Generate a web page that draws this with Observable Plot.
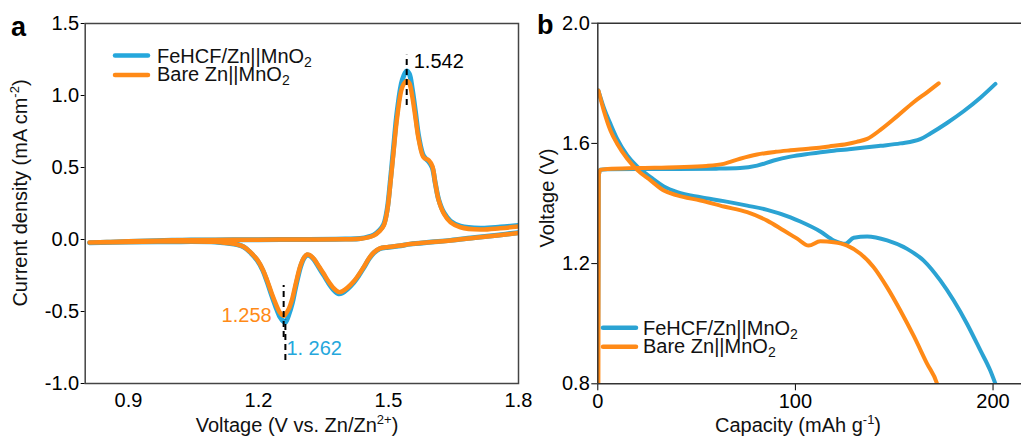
<!DOCTYPE html>
<html><head><meta charset="utf-8">
<script src="https://cdn.jsdelivr.net/npm/d3@7"></script>
<script src="https://cdn.jsdelivr.net/npm/@observablehq/plot@0.6"></script>
<style>
html,body{margin:0;padding:0;background:#fff;overflow:hidden}
#wrap{position:relative;width:1021px;height:436px;font-family:"Liberation Sans",Arial,sans-serif}
#wrap svg{position:absolute;top:0;max-width:none}
</style></head><body><div id="wrap"></div>
<script>
// ---------- Panel a: CV curves (loop: cathodic scan 1.8 -> 0.81, then anodic 0.81 -> 1.8)
const cvVoltage = [1.800,1.75,1.70,1.643,1.60,1.55,1.528,1.50,1.48,1.466,1.455,1.443,1.43,1.42,1.405,1.393,1.385,1.374,1.36,1.351,1.34,1.328,1.318,1.312,1.305,1.298,1.293,1.285,1.278,1.27,1.262,1.258,1.25,1.239,1.23,1.22,1.21,1.197,1.18,1.166,1.15,1.13,1.10,1.0,0.9,0.81,
  0.85,0.9,1.0,1.1,1.2,1.3,1.4,1.435,1.466,1.48,1.489,1.497,1.505,1.512,1.52,1.532,1.542,1.548,1.555,1.562,1.57,1.581,1.593,1.601,1.608,1.616,1.628,1.643,1.666,1.712,1.758,1.80];
const cvBare = [0.045,0.028,0.012,-0.007,-0.018,-0.032,-0.042,-0.052,-0.062,-0.09,-0.13,-0.19,-0.25,-0.29,-0.335,-0.36,-0.365,-0.34,-0.285,-0.24,-0.19,-0.135,-0.108,-0.104,-0.125,-0.17,-0.22,-0.32,-0.41,-0.48,-0.52,-0.53,-0.51,-0.44,-0.37,-0.285,-0.21,-0.14,-0.085,-0.05,-0.034,-0.025,-0.016,-0.014,-0.017,-0.021,
  -0.018,-0.013,-0.006,-0.003,-0.001,0.0,0.002,0.005,0.028,0.06,0.097,0.2,0.41,0.62,0.85,1.06,1.10,1.085,0.99,0.85,0.69,0.57,0.55,0.51,0.39,0.27,0.178,0.12,0.085,0.069,0.078,0.09];
const cvFeHCF = [0.048,0.030,0.014,-0.006,-0.018,-0.032,-0.043,-0.054,-0.064,-0.093,-0.135,-0.195,-0.257,-0.298,-0.345,-0.372,-0.377,-0.352,-0.295,-0.25,-0.198,-0.14,-0.112,-0.108,-0.13,-0.18,-0.235,-0.34,-0.44,-0.52,-0.575,-0.57,-0.54,-0.46,-0.385,-0.295,-0.215,-0.145,-0.087,-0.052,-0.035,-0.026,-0.017,-0.015,-0.018,-0.022,
  -0.019,-0.014,-0.006,-0.003,-0.001,0.0,0.003,0.007,0.032,0.066,0.105,0.21,0.43,0.65,0.89,1.11,1.17,1.15,1.04,0.89,0.71,0.58,0.54,0.50,0.39,0.275,0.185,0.128,0.093,0.078,0.086,0.098];
const xTicksA = [0.9,1.2,1.5,1.8];
const xTickLabelsA = ["0.9","1.2","1.5","1.8"];
const yTicksA = [-1.0,-0.5,0.0,0.5,1.0,1.5];
const yTickLabelsA = ["-1.0","-0.5","0.0","0.5","1.0","1.5"];
const peakLabels = ["1.542","1.258","1. 262"];
const peakVoltages = [1.542,1.258,1.262];
const peakDashLow = [0.93,-0.68,-0.84];
const peakDashHigh = [1.28,-0.32,-0.56];

// ---------- Panel b: charge/discharge curves
const chargeFeHCFCap  = [0.2,0.5,1.2,5,20,40,60,72,80.6,89,97.5,107.6,117,126.2,135,143,153.1,163.2,168.3,176.7,185.1,193.6,201.2];
const chargeFeHCFVolt = [0.98,1.49,1.512,1.514,1.515,1.515,1.516,1.518,1.526,1.543,1.556,1.566,1.574,1.58,1.586,1.592,1.6,1.614,1.633,1.668,1.707,1.752,1.798];
const chargeBareCap  = [0.3,0.5,1.2,5,20,40,55,63.7,72,80.6,90,97.5,107.6,117,126.2,131,136.3,143,151.4,159.8,166.6,172.5];
const chargeBareVolt = [0.78,1.49,1.512,1.515,1.518,1.521,1.525,1.532,1.549,1.563,1.572,1.577,1.583,1.59,1.598,1.605,1.615,1.645,1.69,1.737,1.77,1.80];
const dischargeFeHCFCap  = [0.3,3,6.4,9.8,14.9,19.9,26.7,33.4,40.2,52,63.7,75.6,85.7,97.5,102.5,112.6,119.4,125.3,129.5,136.3,146.4,156.5,164.9,173.3,180.1,186.8,193.6,198.6,201.2];
const dischargeFeHCFVolt = [1.776,1.72,1.665,1.615,1.56,1.523,1.488,1.457,1.438,1.421,1.408,1.393,1.379,1.354,1.34,1.307,1.277,1.266,1.286,1.29,1.277,1.249,1.21,1.144,1.077,1.0,0.911,0.844,0.8];
const dischargeBareCap  = [0.3,3,6.4,9.8,14.9,19.9,26.7,33.4,40.2,52,63.7,75.6,85.7,94.1,100.9,106.7,112.6,119.4,126.2,132.9,139.6,146.4,153.1,159.8,166.6,171.7,173];
const dischargeBareVolt = [1.776,1.71,1.643,1.599,1.549,1.512,1.477,1.443,1.427,1.41,1.39,1.371,1.343,1.31,1.283,1.26,1.274,1.271,1.26,1.233,1.188,1.121,1.044,0.96,0.867,0.8,0.77];
const xTicksB = [0,100,200];
const xTickLabelsB = ["0","100","200"];
const yTicksB = [0.8,1.2,1.6,2.0];
const yTickLabelsB = ["0.8","1.2","1.6","2.0"];

const seriesNames = ["FeHCF/Zn||MnO", "Bare Zn||MnO"];
const BLUE = "#25a7dc", ORANGE = "#ff8a17", BLUE_B = "#2ba3d3";
const FONT = "'Liberation Sans', Arial, sans-serif";

const wrap = document.getElementById("wrap");
const baseStyle = {background:"transparent", overflow:"visible", fontFamily: FONT, fontSize:"20px", color:"#000"};

const rowsA = vals => cvVoltage.map((v,i)=>({v, c: vals[i]}));
const peaks = peakVoltages.map((v,i)=>({v, lo: peakDashLow[i], hi: peakDashHigh[i], label: peakLabels[i]}));

const plotA = Plot.plot({
  width: 540, height: 436,
  marginLeft: 84.7, marginRight: 22, marginTop: 23, marginBottom: 53,
  style: baseStyle,
  x: {domain:[0.8,1.8]},
  y: {domain:[-1,1.5]},
  marks: [
    Plot.axisY({ticks: yTicksA, tickFormat:(d,i)=>yTickLabelsA[i], tickSize:4, tickPadding:2, label:null}),
    Plot.axisX({ticks: xTicksA, tickFormat:(d,i)=>xTickLabelsA[i], tickSize:0, tickPadding:9, label:null}),
    Plot.line(rowsA(cvFeHCF), {x:"v", y:"c", stroke: BLUE, strokeWidth:5, curve:"catmull-rom", clip:true}),
    Plot.line(rowsA(cvBare), {x:"v", y:"c", stroke: ORANGE, strokeWidth:4.5, curve:"catmull-rom", clip:true}),
    Plot.ruleX(peaks, {x:"v", y1:"lo", y2:"hi", stroke:"#000", strokeWidth:2, strokeDasharray:"6,4"}),
    Plot.text([peaks[0]], {x:"v", y:1.232, text:"label", textAnchor:"start", dx:7, fill:"#000", fontSize:20}),
    Plot.text([peaks[1]], {x:"v", y:-0.53, text:"label", textAnchor:"end", dx:-12, fill:ORANGE, fontSize:20}),
    Plot.text([peaks[2]], {x:"v", y:-0.76, text:"label", textAnchor:"start", dx:1, fill:BLUE, fontSize:20}),
    Plot.frame({stroke:"#444", strokeWidth:1.5})
  ]
});
plotA.style.left = "0px";

const rowsB = (caps, volts) => caps.map((c,i)=>({c, v: volts[i]}));
const plotB = Plot.plot({
  width: 501, height: 436,
  marginLeft: 77.3, marginRight: 0, marginTop: 22.7, marginBottom: 52.7,
  style: baseStyle,
  x: {domain:[0,214.4]},
  y: {domain:[0.8,2.0]},
  marks: [
    Plot.axisY({ticks: yTicksB, tickFormat:(d,i)=>yTickLabelsB[i], tickSize:6, tickPadding:2, label:null}),
    Plot.axisX({ticks: xTicksB, tickFormat:(d,i)=>xTickLabelsB[i], tickSize:7, tickPadding:3, label:null}),
    Plot.line(rowsB(chargeFeHCFCap, chargeFeHCFVolt), {x:"c", y:"v", stroke: BLUE_B, strokeWidth:4, curve:"monotone-x", clip:true}),
    Plot.line(rowsB(dischargeFeHCFCap, dischargeFeHCFVolt), {x:"c", y:"v", stroke: BLUE_B, strokeWidth:4, curve:"monotone-x", clip:true}),
    Plot.line(rowsB(chargeBareCap, chargeBareVolt), {x:"c", y:"v", stroke: ORANGE, strokeWidth:4, curve:"monotone-x", clip:true}),
    Plot.line(rowsB(dischargeBareCap, dischargeBareVolt), {x:"c", y:"v", stroke: ORANGE, strokeWidth:4, curve:"monotone-x", clip:true}),
    Plot.ruleY([2.0, 0.8], {stroke:"#333", strokeWidth:1.5}),
    Plot.ruleX([0], {stroke:"#333", strokeWidth:1.5})
  ]
});
plotB.style.left = "520px";

wrap.appendChild(plotB);
wrap.appendChild(plotA);

// ---------- overlay text: panel letters, axis titles, legends
const ns = "http://www.w3.org/2000/svg";
const ov = document.createElementNS(ns, "svg");
ov.setAttribute("width", 1021); ov.setAttribute("height", 436);
ov.style.left = "0px"; ov.style.pointerEvents = "none";
ov.setAttribute("font-family", FONT);
wrap.appendChild(ov);

function txt(x, y, parts, opts = {}) {
  const t = document.createElementNS(ns, "text");
  t.setAttribute("x", x); t.setAttribute("y", y);
  t.setAttribute("font-size", opts.size || 20);
  t.setAttribute("fill", opts.fill || "#111");
  if (opts.anchor) t.setAttribute("text-anchor", opts.anchor);
  if (opts.weight) t.setAttribute("font-weight", opts.weight);
  if (opts.transform) t.setAttribute("transform", opts.transform);
  for (const p of parts) {
    const s = document.createElementNS(ns, "tspan");
    if (p.dy) s.setAttribute("dy", p.dy);
    if (p.size) s.setAttribute("font-size", p.size);
    s.textContent = p.t;
    t.appendChild(s);
  }
  ov.appendChild(t);
}
function seg(x1, x2, y, color) {
  const l = document.createElementNS(ns, "line");
  l.setAttribute("x1", x1); l.setAttribute("x2", x2);
  l.setAttribute("y1", y); l.setAttribute("y2", y);
  l.setAttribute("stroke", color); l.setAttribute("stroke-width", 4.5);
  l.setAttribute("stroke-linecap", "round");
  ov.appendChild(l);
}

txt(11, 36, [{t:"a"}], {size:27, weight:"bold", fill:"#000"});
txt(537, 34, [{t:"b"}], {size:27, weight:"bold", fill:"#000"});

txt(0, 0, [{t:"Current density (mA cm"},{t:"-2", dy:-8, size:13},{t:")", dy:8}], {anchor:"middle", transform:"translate(27,193) rotate(-90)"});
txt(297, 432, [{t:"Voltage (V vs. Zn/Zn"},{t:"2+", dy:-8, size:13},{t:")", dy:8}], {anchor:"middle"});
txt(0, 0, [{t:"Voltage (V)"}], {anchor:"middle", transform:"translate(554,198) rotate(-90)"});
txt(798, 432, [{t:"Capacity (mAh g"},{t:"-1", dy:-8, size:13},{t:")", dy:8}], {anchor:"middle"});

// legend a
seg(115, 148, 55.5, BLUE);
seg(115, 148, 75, ORANGE);
txt(157, 63, [{t:seriesNames[0]},{t:"2", dy:4, size:14}]);
txt(157, 81, [{t:seriesNames[1]},{t:"2", dy:4, size:14}]);
// legend b
seg(603, 636, 327.7, BLUE_B);
seg(603, 636, 346.7, ORANGE);
txt(643, 334.5, [{t:seriesNames[0]},{t:"2", dy:4, size:14}]);
txt(643, 353, [{t:seriesNames[1]},{t:"2", dy:4, size:14}]);
</script></body></html>
